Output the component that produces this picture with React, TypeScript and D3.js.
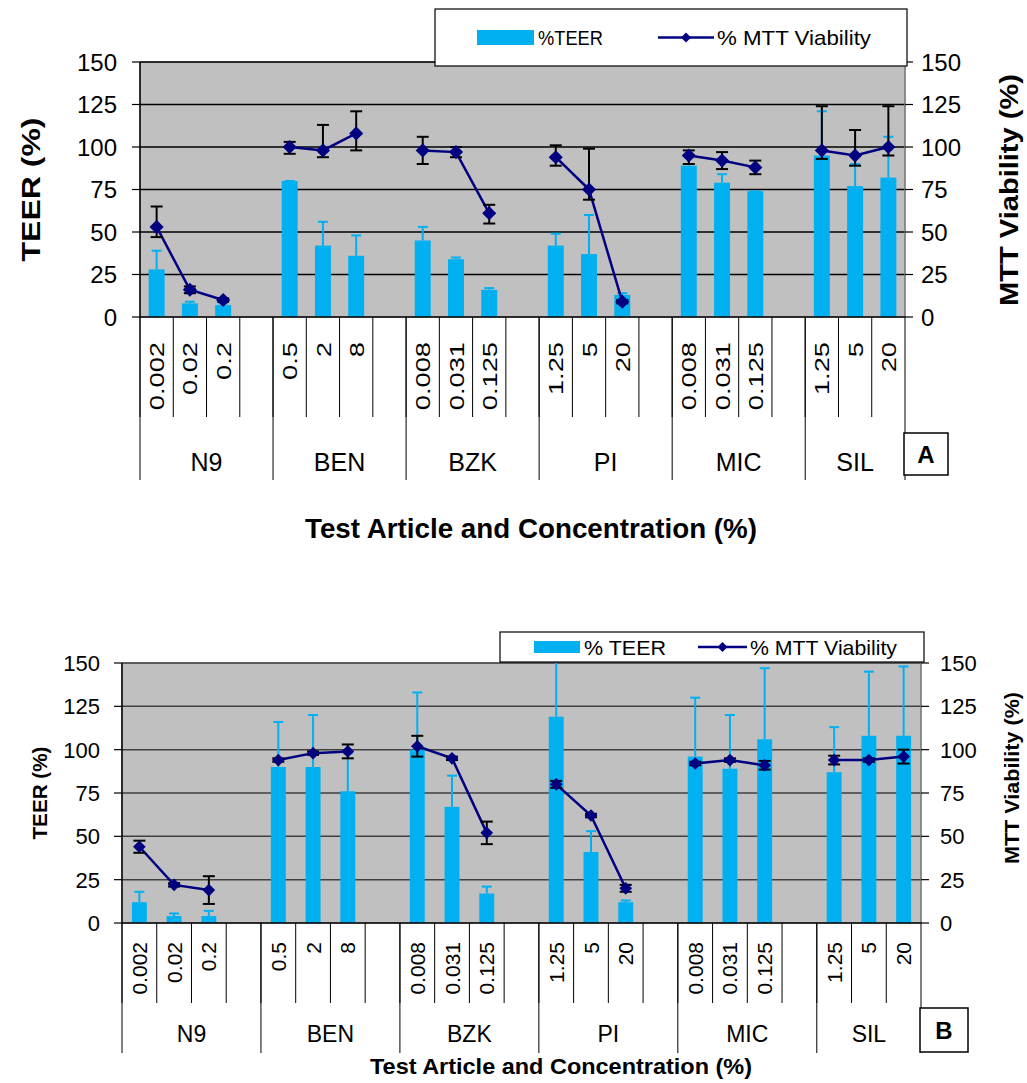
import React from "react";
import * as d3 from "d3";

// test articles and their concentrations (%)
const groups = ["N9", "BEN", "BZK", "PI", "MIC", "SIL"];
const concentrations = [
  ["0.002", "0.02", "0.2"],
  ["0.5", "2", "8"],
  ["0.008", "0.031", "0.125"],
  ["1.25", "5", "20"],
  ["0.008", "0.031", "0.125"],
  ["1.25", "5", "20"],
];
const yTicks = [0, 25, 50, 75, 100, 125, 150];

// panel A
const teerA = [28, 8, 7, 80, 42, 36, 45, 34, 16, 42, 37, 13, 89, 79, 74, 95, 77, 82];
const teerAErr = [11, 1, 1, 0, 14, 12, 8, 1, 1, 7, 23, 1, 5, 5, 0, 26, 13, 24];
const mttA = [53, 16, 10, 100, 98, 108, 98, 97, 61, 94, 75, 9, 95, 92, 88, 98, 95, 100];
const mttAPlus = [12, 2, 1, 3, 15, 13, 8, 3, 5, 7, 24, 1, 3, 5, 4, 26, 15, 24];
const mttAMinus = [6, 2, 1, 4, 4, 10, 8, 3, 6, 5, 6, 1, 5, 5, 4, 5, 6, 5];

// panel B
const teerB = [12, 4, 4, 90, 90, 76, 100, 67, 17, 119, 41, 12, 96, 89, 106, 87, 108, 108];
const teerBErr = [6, 1.5, 3, 26, 30, 22, 33, 18, 4, 40, 12, 1, 34, 31, 41, 26, 37, 40];
const mttB = [44, 22, 19, 94, 98, 99, 102, 95, 52, 80, 62, 20, 92, 94, 91, 94, 94, 96];
const mttBErr = [3.5, 1, 8, 1, 1, 4, 6, 1, 6.5, 2, 1, 2, 1, 1, 2.5, 2.5, 1, 4];

const FONT = "'Liberation Sans', Arial, sans-serif";
const CYAN = "#00B0F0";
const NAVY = "#000080";

// Excel-style category slots: 3 concentrations + a blank per group, last group without blank
const slots: string[] = [];
const points: { slot: string; g: number; j: number; idx: number }[] = [];
groups.forEach((g, gi) => {
  concentrations[gi].forEach((c, j) => {
    const key = `${gi}-${j}`;
    slots.push(key);
    points.push({ slot: key, g: gi, j, idx: points.length });
  });
  if (gi < groups.length - 1) slots.push(`${gi}-blank`);
});

const diamond = (size: number) => d3.symbol(d3.symbolSquare, size)();

type PanelProps = {
  id: string;
  left: number; right: number; top: number; bottom: number;
  teer: number[]; teerErr: number[];
  mtt: number[]; mttPlus: number[]; mttMinus: number[];
  tickFont: number; leftLabelX: number; rightLabelX: number;
  titleFont: number; leftTitleX: number; rightTitleX: number; rightTitleY: number;
  leftTitleLen: number; rightTitleLen: number;
  catFont: number; catY: number; catStretch: number; row1End: number; row2End: number;
  groupFont: number; groupY: number;
  xTitleFont: number; xTitleX: number; xTitleY: number; xTitleLen: number;
  gridColor: string; barFrac: number; markerSize: number;
  box: { x: number; y: number; w: number; h: number; label: string; font: number };
};

function Panel(p: PanelProps) {
  const x = d3.scaleBand<string>().domain(slots).range([p.left, p.right]).padding(0);
  const y = d3.scaleLinear().domain([0, 150]).range([p.bottom, p.top]);
  const bw = x.bandwidth() * p.barFrac;
  const cx = (s: string) => (x(s) as number) + x.bandwidth() / 2;
  const line = d3
    .line<{ slot: string; idx: number }>()
    .x((d) => cx(d.slot))
    .y((d) => y(p.mtt[d.idx]));
  const groupSegs = points.filter((d) => d.j === 0).map((d) => d.g);
  const midY = (p.top + p.bottom) / 2;
  const clip = `clip-${p.id}`;

  return (
    <g fontFamily={FONT}>
      <defs>
        <clipPath id={clip}>
          <rect x={p.left} y={p.top} width={p.right - p.left} height={p.bottom - p.top} />
        </clipPath>
      </defs>
      <rect x={p.left} y={p.top} width={p.right - p.left} height={p.bottom - p.top} fill="#C0C0C0" stroke="#808080" />
      {yTicks.slice(1).map((t) => (
        <line key={t} x1={p.left} x2={p.right} y1={y(t)} y2={y(t)} stroke={p.gridColor} strokeWidth={1.5} />
      ))}
      {/* left and right value axes */}
      <line x1={p.left} x2={p.left} y1={p.top} y2={p.bottom} stroke="#000" strokeWidth={1.5} />
      <line x1={p.right} x2={p.right} y1={p.top} y2={p.bottom} stroke="#808080" strokeWidth={1.5} />
      {yTicks.map((t) => (
        <g key={t}>
          <line x1={p.left - 8} x2={p.left} y1={y(t)} y2={y(t)} stroke="#000" strokeWidth={1.2} />
          <line x1={p.right} x2={p.right + 8} y1={y(t)} y2={y(t)} stroke="#000" strokeWidth={1.2} />
          <text x={p.leftLabelX} y={y(t)} dy="0.36em" textAnchor="end" fontSize={p.tickFont}>{t}</text>
          <text x={p.rightLabelX} y={y(t)} dy="0.36em" textAnchor="start" fontSize={p.tickFont}>{t}</text>
        </g>
      ))}
      <text transform={`translate(${p.leftTitleX},${midY}) rotate(-90)`} textAnchor="middle" dy="0.36em" fontSize={p.titleFont} fontWeight="bold" textLength={p.leftTitleLen} lengthAdjust="spacingAndGlyphs">TEER (%)</text>
      <text transform={`translate(${p.rightTitleX},${p.rightTitleY}) rotate(-90)`} textAnchor="middle" dy="0.36em" fontSize={p.titleFont} fontWeight="bold" textLength={p.rightTitleLen} lengthAdjust="spacingAndGlyphs">MTT Viability (%)</text>

      {/* bars with plus error bars */}
      <g clipPath={`url(#${clip})`}>
        {points.map((d) => (
          <g key={d.slot}>
            <line x1={cx(d.slot)} x2={cx(d.slot)} y1={y(p.teer[d.idx])} y2={y(p.teer[d.idx] + p.teerErr[d.idx])} stroke={CYAN} strokeWidth={2} />
            <line x1={cx(d.slot) - 5} x2={cx(d.slot) + 5} y1={y(p.teer[d.idx] + p.teerErr[d.idx])} y2={y(p.teer[d.idx] + p.teerErr[d.idx])} stroke={CYAN} strokeWidth={2} />
            <rect x={cx(d.slot) - bw / 2} y={y(p.teer[d.idx])} width={bw} height={p.bottom - y(p.teer[d.idx])} fill={CYAN} />
          </g>
        ))}
      </g>

      {/* MTT line per group */}
      {groupSegs.map((g) => (
        <path key={g} d={line(points.filter((d) => d.g === g)) as string} fill="none" stroke={NAVY} strokeWidth={2.5} />
      ))}
      {points.map((d) => {
        const v = p.mtt[d.idx];
        const hi = y(v + p.mttPlus[d.idx]);
        const lo = y(v - p.mttMinus[d.idx]);
        const c = cx(d.slot);
        return (
          <g key={d.slot}>
            <line x1={c} x2={c} y1={hi} y2={lo} stroke="#000" strokeWidth={2} />
            <line x1={c - 6} x2={c + 6} y1={hi} y2={hi} stroke="#000" strokeWidth={2} />
            <line x1={c - 6} x2={c + 6} y1={lo} y2={lo} stroke="#000" strokeWidth={2} />
            <path d={diamond(p.markerSize) as string} transform={`translate(${c},${y(v)}) rotate(45)`} fill={NAVY} />
          </g>
        );
      })}

      {/* multi-level category axis */}
      {slots.map((s) => (
        <line key={s} x1={x(s) as number} x2={x(s) as number} y1={p.bottom} y2={p.row1End} stroke="#000" strokeWidth={1} />
      ))}
      <line x1={p.right} x2={p.right} y1={p.bottom} y2={p.row2End} stroke="#000" strokeWidth={1} />
      {groups.map((g, gi) => {
        const gs = slots.filter((s) => s.startsWith(`${gi}-`));
        const x0 = x(gs[0]) as number;
        const x1 = gi < groups.length - 1 ? (x(gs[gs.length - 1]) as number) + x.bandwidth() : p.right;
        return (
          <g key={g}>
            <line x1={x0} x2={x0} y1={p.bottom} y2={p.row2End} stroke="#000" strokeWidth={1} />
            <text x={(x0 + x1) / 2} y={p.groupY} textAnchor="middle" fontSize={p.groupFont}>{g}</text>
          </g>
        );
      })}
      {points.map((d) => (
        <text key={d.slot} transform={`translate(${cx(d.slot)},${p.catY}) rotate(-90) scale(${p.catStretch},1)`} textAnchor="end" dy="0.36em" fontSize={p.catFont}>
          {concentrations[d.g][d.j]}
        </text>
      ))}
      <line x1={p.left} x2={p.right} y1={p.bottom} y2={p.bottom} stroke="#000" strokeWidth={1.5} />
      <text x={p.xTitleX} y={p.xTitleY} textAnchor="middle" fontSize={p.xTitleFont} fontWeight="bold" textLength={p.xTitleLen} lengthAdjust="spacingAndGlyphs">Test Article and Concentration (%)</text>

      <rect x={p.box.x} y={p.box.y} width={p.box.w} height={p.box.h} fill="#fff" stroke="#000" strokeWidth={1.5} />
      <text x={p.box.x + p.box.w / 2} y={p.box.y + p.box.h / 2} dy="0.36em" textAnchor="middle" fontSize={p.box.font} fontWeight="bold">{p.box.label}</text>
    </g>
  );
}

type LegendProps = {
  x: number; y: number; w: number; h: number; font: number;
  sw: [number, number, number]; lineX: [number, number];
  teerLabel: string; teerLen: number; mttLen: number;
};

function Legend({ x, y, w, h, font, sw, lineX, teerLabel, teerLen, mttLen }: LegendProps) {
  const cy = y + h / 2;
  return (
    <g fontFamily={FONT}>
      <rect x={x} y={y} width={w} height={h} fill="#fff" stroke="#000" strokeWidth={1.2} />
      <rect x={sw[0]} y={cy - sw[2] / 2} width={sw[1] - sw[0]} height={sw[2]} fill={CYAN} />
      <text x={sw[1] + 4} y={cy} dy="0.36em" fontSize={font} textLength={teerLen} lengthAdjust="spacingAndGlyphs">{teerLabel}</text>
      <line x1={lineX[0]} x2={lineX[1]} y1={cy} y2={cy} stroke={NAVY} strokeWidth={2.5} />
      <path d={diamond(50) as string} transform={`translate(${(lineX[0] + lineX[1]) / 2},${cy}) rotate(45)`} fill={NAVY} />
      <text x={lineX[1] + 3} y={cy} dy="0.36em" fontSize={font} textLength={mttLen} lengthAdjust="spacingAndGlyphs">% MTT Viability</text>
    </g>
  );
}

export default function App() {
  return (
    <div style={{ position: "absolute", left: 0, top: 0, background: "#fff" }}>
      <svg width={1027} height={1083} style={{ display: "block" }}>
        <rect width={1027} height={1083} fill="#fff" />
        <Panel
          id="a" left={140} right={905} top={62} bottom={317}
          teer={teerA} teerErr={teerAErr} mtt={mttA} mttPlus={mttAPlus} mttMinus={mttAMinus}
          tickFont={24} leftLabelX={117} rightLabelX={921}
          titleFont={25} leftTitleX={31} rightTitleX={1009} rightTitleY={190}
          leftTitleLen={144} rightTitleLen={232}
          catFont={21} catY={342} catStretch={1.3} row1End={417} row2End={480}
          groupFont={25} groupY={471}
          xTitleFont={27} xTitleX={531} xTitleY={538} xTitleLen={452}
          gridColor="#000" barFrac={0.48} markerSize={100}
          box={{ x: 904, y: 433, w: 44, h: 42, label: "A", font: 24 }}
        />
        <Legend x={435} y={9} w={472} h={57} font={21} sw={[477, 534, 15]} lineX={[658, 714]} teerLabel="%TEER" teerLen={65} mttLen={154} />
        <Panel
          id="b" left={122} right={921} top={663} bottom={923}
          teer={teerB} teerErr={teerBErr} mtt={mttB} mttPlus={mttBErr} mttMinus={mttBErr}
          tickFont={22} leftLabelX={100} rightLabelX={940}
          titleFont={20} leftTitleX={40} rightTitleX={1012} rightTitleY={778}
          leftTitleLen={93} rightTitleLen={172}
          catFont={21} catY={942} catStretch={1} row1End={1003} row2End={1053}
          groupFont={23} groupY={1042}
          xTitleFont={22} xTitleX={561} xTitleY={1074} xTitleLen={382}
          gridColor="#404040" barFrac={0.43} markerSize={80}
          box={{ x: 920, y: 1008, w: 48, h: 44, label: "B", font: 24 }}
        />
        <Legend x={500} y={632} w={424} h={30} font={21} sw={[534, 580, 12]} lineX={[698, 747]} teerLabel="% TEER" teerLen={82} mttLen={147} />
      </svg>
    </div>
  );
}
